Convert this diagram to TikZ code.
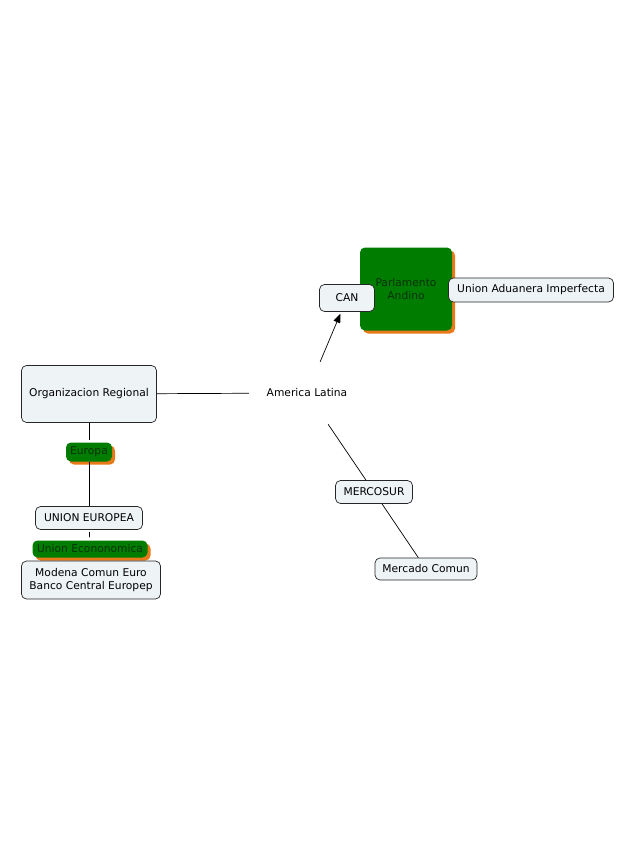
\documentclass[tikz,border=0pt]{standalone}
\usepackage{fontspec}
\setmainfont{DejaVu Sans}
\usetikzlibrary{arrows.meta, shadows}
\definecolor{cmapfill}{RGB}{238,243,246}
\definecolor{cmapgreen}{RGB}{0,125,0}
\definecolor{cmaporange}{RGB}{232,122,26}
\definecolor{cmapgreentext}{RGB}{10,48,10}

\begin{document}
\begin{tikzpicture}[x=1pt, y=-1pt,
    every node/.style={font=\fontsize{10.7}{13}\selectfont, inner sep=0pt, align=center},
    concept/.style={draw=black!85, fill=cmapfill, rounded corners=5pt, line width=0.7pt},
    greenbox/.style={fill=cmapgreen, text=cmapgreentext, rounded corners=5pt,
        drop shadow={shadow xshift=3pt, shadow yshift=-3pt, fill=cmaporange, opacity=1}},
    link/.style={line width=0.7pt}]
                    \useasboundingbox[fill=white] (0,0) rectangle (638,849);

                    % right side
                    \node[greenbox, minimum width=92pt, minimum height=83pt](parlamento) at (406,289){Parlamento\\Andino};
                    \node[concept, minimum width=165pt, minimum height=24pt](aduanera) at (531,290){Union Aduanera Imperfecta};
                    \node[concept, minimum width=55pt, minimum height=27pt](can) at (347,298){CAN};

                    \node[minimum width=116pt, minimum height=62pt](america) at (307,393){America Latina};
                    \node[concept, minimum width=77pt, minimum height=23pt](mercosur) at (374,492){MERCOSUR};
                    \node[concept, minimum width=102pt, minimum height=22pt](mercado) at (426,569){Mercado Comun};
                    \draw[link, -{Triangle[length=9pt, width=7pt]}, shorten >=2pt] (america) -- (can);
                    \draw[link] (america) -- (mercosur) -- (mercado);

                    % left side
                    \node[concept, minimum width=135pt, minimum height=57pt](organizacion) at (89,394){Organizacion Regional};
                    \node[greenbox, minimum width=46pt, minimum height=19pt](europa) at (89,452){Europa};
                    \node[concept, minimum width=107pt, minimum height=23pt](unioneu) at (89,518){UNION EUROPEA};
                    \node[greenbox, minimum width=115pt, minimum height=17pt](economica) at (90,549){Union Econonomica};
                    \node[concept, minimum width=139pt, minimum height=38pt](modena) at (91,580){Modena Comun Euro\\Banco Central Europep};
                    \draw[link] (organizacion) -- (america);
                    \draw[link, shorten >=2pt] (organizacion) -- (europa);
                    \draw[link] (europa) -- (unioneu);
                    \draw[link, shorten <=2pt, shorten >=3pt] (unioneu) -- (economica);
                \end{tikzpicture}
\end{document}
